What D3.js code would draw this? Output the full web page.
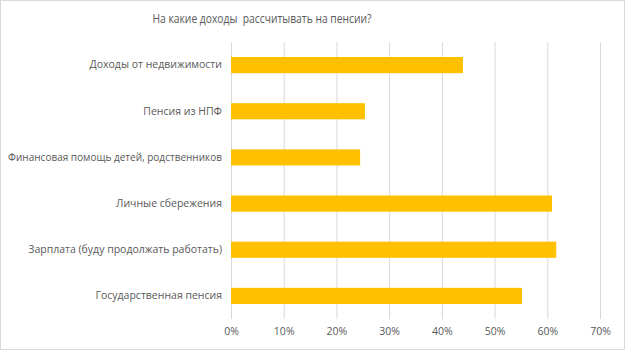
<!DOCTYPE html>
<html><head><meta charset="utf-8">
<script src="https://cdn.jsdelivr.net/npm/d3@7"></script>
<style>body{margin:0;background:#fff}svg{display:block}text{font-family:"Open Sans",sans-serif;fill:#595959}</style>
</head><body><svg id="c" width="625" height="350"></svg>
<script>
const categories = ["Доходы от недвижимости","Пенсия из НПФ","Финансовая помощь детей, родственников","Личные сбережения","Зарплата (буду продолжать работать)","Государственная пенсия"];
const values = [0.44, 0.254, 0.245, 0.609, 0.617, 0.552];
const tickValues = [0,0.1,0.2,0.3,0.4,0.5,0.6,0.7];
const title = "На какие доходы  рассчитывать на пенсии?";

const svg = d3.select("#c");
svg.append("rect").attr("x",0.5).attr("y",0.5).attr("width",624).attr("height",349).attr("fill","#fff").attr("stroke","#d9d9d9");
const x = d3.scaleLinear().domain([0,0.7]).range([231,600]);
const y = d3.scaleBand().domain(categories).range([42,319]).paddingInner(0.65).paddingOuter(0.325);

svg.append("text").attr("x",262).attr("y",23).attr("text-anchor","middle").attr("font-size",12.5)
  .attr("xml:space","preserve").attr("textLength",219).attr("lengthAdjust","spacingAndGlyphs").text(title);

svg.append("g").selectAll("line").data(tickValues).join("line")
  .attr("x1",d=>x(d)+0.5).attr("x2",d=>x(d)+0.5).attr("y1",42).attr("y2",319)
  .attr("stroke","#d9d9d9").attr("stroke-width",1);

svg.append("g").selectAll("rect").data(categories).join("rect")
  .attr("x",x(0)).attr("y",d=>y(d)).attr("height",y.bandwidth())
  .attr("width",(d,i)=>x(values[i])-x(0)).attr("fill","#FFC000");

const ax = svg.append("g").attr("transform","translate(0,319)")
  .call(d3.axisBottom(x).tickValues(tickValues).tickFormat(d3.format(".0%")).tickSize(0).tickPadding(9));
ax.select(".domain").remove();
ax.selectAll("text").attr("font-size",10.5).attr("fill","#595959").style("font-family","'Open Sans',sans-serif");

const ay = svg.append("g").attr("transform","translate(231,0)")
  .call(d3.axisLeft(y).tickSize(0).tickPadding(9));
ay.select(".domain").remove();
ay.selectAll("text").attr("font-size",10.5).attr("fill","#595959").style("font-family","'Open Sans',sans-serif");
ay.selectAll("text").each(function(){
  const w=this.getComputedTextLength(); if(w>214){d3.select(this).attr("textLength",214).attr("lengthAdjust","spacingAndGlyphs");}
});
</script></body></html>
